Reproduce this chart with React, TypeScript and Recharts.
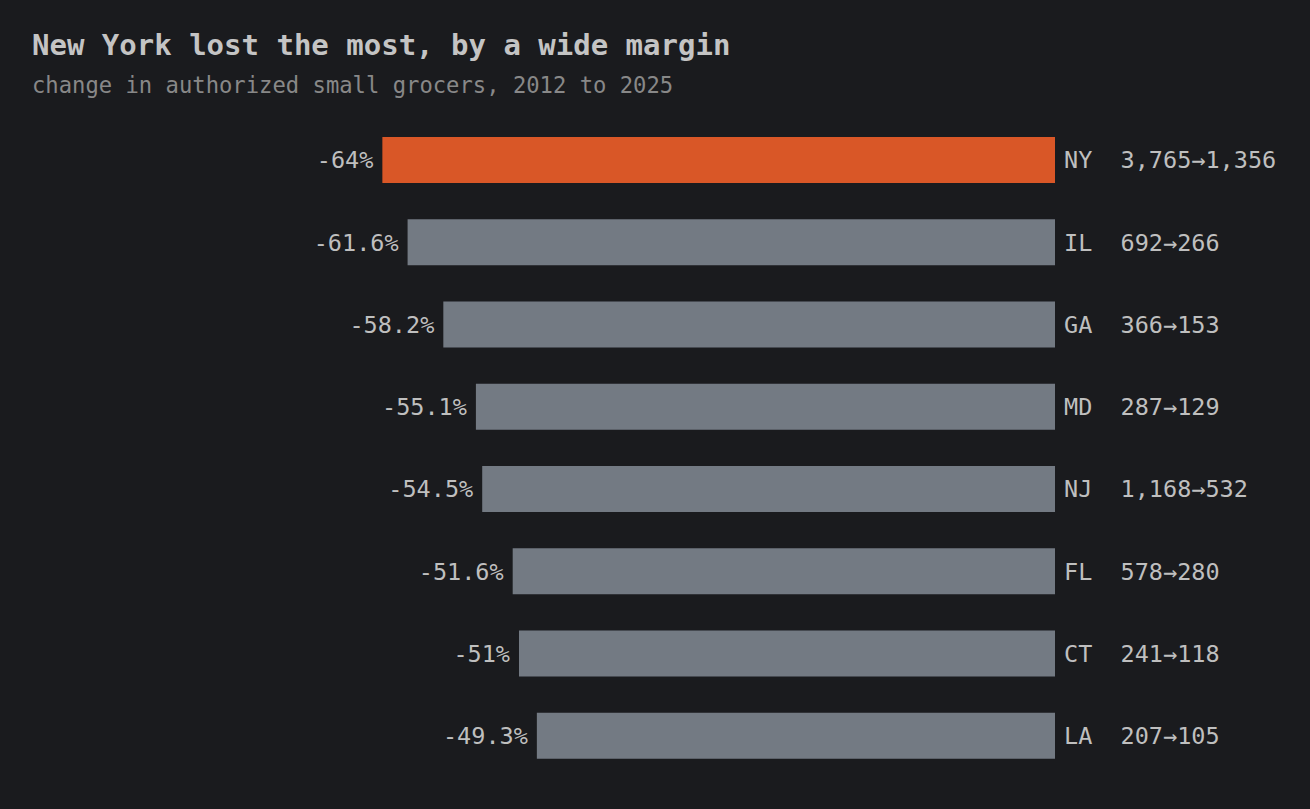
import React from 'react';
import { BarChart, Bar, XAxis, YAxis, Cell, LabelList } from 'recharts';

const states = ['NY', 'IL', 'GA', 'MD', 'NJ', 'FL', 'CT', 'LA'];
const pctChange = [-64, -61.6, -58.2, -55.1, -54.5, -51.6, -51, -49.3];
const count2012 = [3765, 692, 366, 287, 1168, 578, 241, 207];
const count2025 = [1356, 266, 153, 129, 532, 280, 118, 105];

const data = states.map((s, i) => ({
  state: s,
  pct: pctChange[i],
  from: count2012[i],
  to: count2025[i],
}));

const FONT = '"DejaVu Sans Mono", monospace';
const BG = '#1a1b1e';
const TEXT = '#bfbfbf';
const ORANGE = '#d95727';
const GRAY = '#737a83';
const LABEL_SIZE = 23.5;
const CHAR_W = LABEL_SIZE * 0.602;

const fmt = (n: number) => n.toLocaleString('en-US');

const LeftLabel = (props: any) => {
  const { x, y, width, height, index } = props;
  const left = Math.min(x, x + width);
  const cy = y + height / 2;
  return (
    <text x={left - 9} y={cy + 8.3} textAnchor="end" fill={TEXT} fontFamily={FONT} fontSize={LABEL_SIZE}>
      {`${pctChange[index]}%`}
    </text>
  );
};

const RightLabel = (props: any) => {
  const { x, y, width, height, index } = props;
  const right = Math.max(x, x + width);
  const cy = y + height / 2;
  return (
    <g>
      <text x={right + 9} y={cy + 8.3} textAnchor="start" fill={TEXT} fontFamily={FONT} fontSize={LABEL_SIZE}>
        {states[index]}
      </text>
      <text x={right + 9 + CHAR_W * 4} y={cy + 8.3} textAnchor="start" fill={TEXT} fontFamily={FONT} fontSize={LABEL_SIZE}>
        {`${fmt(count2012[index])}→${fmt(count2025[index])}`}
      </text>
    </g>
  );
};

export default function App() {
  return (
    <div style={{ position: 'relative', width: 1310, height: 809, background: BG, overflow: 'hidden' }}>
      <style>{'body{margin:0;background:#1a1b1e;}'}</style>
      <svg width={1310} height={120} style={{ position: 'absolute', left: 0, top: 0 }}>
        <text x={32} y={55} fill="#c4c4c4" fontFamily={FONT} fontSize={29} fontWeight="bold">
          New York lost the most, by a wide margin
        </text>
        <text x={32} y={93} fill="#888888" fontFamily={FONT} fontSize={22.2}>
          change in authorized small grocers, 2012 to 2025
        </text>
      </svg>
      <div style={{ position: 'absolute', left: 0, top: 0 }}>
        <BarChart
          width={1310}
          height={809}
          data={data}
          layout="vertical"
          margin={{ top: 119, right: 255, bottom: 32, left: 4 }}
          barCategoryGap={0}
        >
          <XAxis type="number" domain={[-100, 0]} hide />
          <YAxis type="category" dataKey="state" hide />
          <Bar dataKey="pct" barSize={46} isAnimationActive={false}>
            {data.map((d, i) => (
              <Cell key={d.state} fill={i === 0 ? ORANGE : GRAY} />
            ))}
            <LabelList dataKey="pct" content={LeftLabel} />
            <LabelList dataKey="state" content={RightLabel} />
          </Bar>
        </BarChart>
      </div>
    </div>
  );
}
